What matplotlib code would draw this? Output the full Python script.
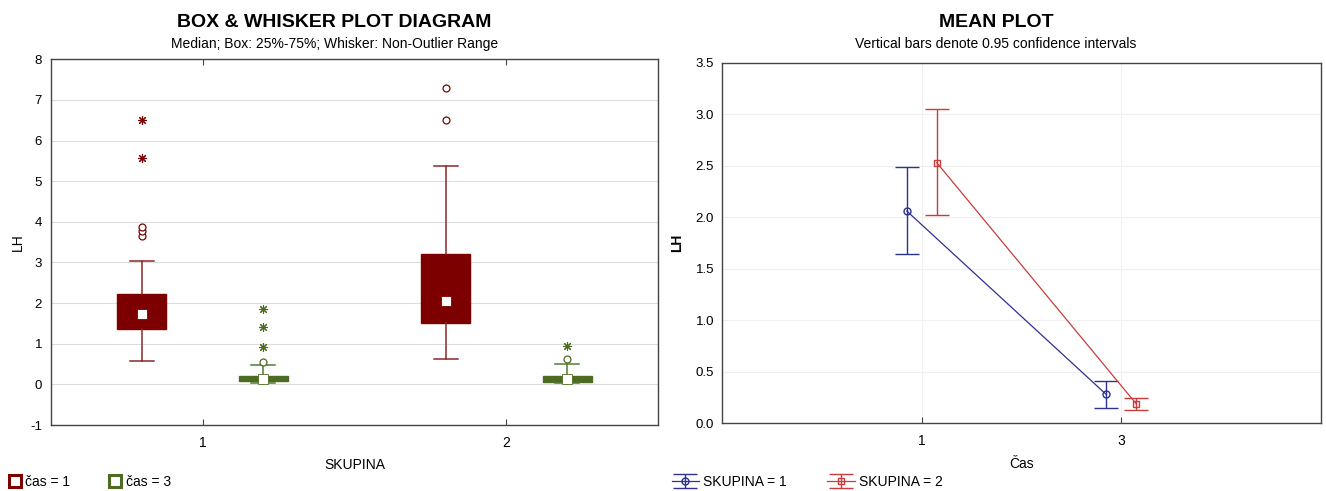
import matplotlib
matplotlib.use("Agg")
import matplotlib.pyplot as plt
from matplotlib.lines import Line2D

plt.rcParams["font.family"] = ["Liberation Sans", "DejaVu Sans"]
plt.rcParams["axes.unicode_minus"] = False

# Box & whisker data (SKUPINA 1, 2 ; čas = 1 / 3)
groups = [1, 2]
cas_labels = ["čas = 1", "čas = 3"]
# per box: [group][čas]
box_q1 = [[1.36, 0.08], [1.50, 0.05]]
box_med = [[1.72, 0.13], [2.04, 0.13]]
box_q3 = [[2.22, 0.21], [3.21, 0.21]]
whisk_lo = [[0.57, 0.03], [0.62, 0.03]]
whisk_hi = [[3.03, 0.47], [5.37, 0.49]]
outliers = [[[3.66, 3.78, 3.88], [0.56]], [[6.51, 7.29], [0.62]]]
extremes = [[[5.58, 6.51], [0.93, 1.41, 1.86]], [[], [0.95]]]

# Mean plot data
cas_ticks = ["1", "3"]
skupina_labels = ["SKUPINA = 1", "SKUPINA = 2"]
means = [[2.06, 0.28], [2.53, 0.19]]
ci_lo = [[1.64, 0.15], [2.02, 0.13]]
ci_hi = [[2.49, 0.41], [3.05, 0.25]]

BOX_FILL = ["#7c0000", "#4e6b22"]
BOX_LINE = ["#8a2a2a", "#4f7d37"]
MEAN_COL = ["#2d3190", "#c93c3c"]
FRAME = "#444444"

fig = plt.figure(figsize=(13.26, 4.91), dpi=100)

# ---------- left: box & whisker ----------
ax1 = fig.add_axes([0.0381, 0.1344, 0.4585, 0.7448])
offsets = [-0.2, 0.2]
for gi, g in enumerate(groups):
    for ci in range(2):
        x = g + offsets[ci]
        stats = [{
            "med": box_med[gi][ci], "q1": box_q1[gi][ci], "q3": box_q3[gi][ci],
            "whislo": whisk_lo[gi][ci], "whishi": whisk_hi[gi][ci], "fliers": [],
        }]
        ax1.bxp(stats, positions=[x], widths=0.16, patch_artist=True,
                showfliers=False, capwidths=0.08,
                boxprops=dict(facecolor=BOX_FILL[ci], edgecolor=BOX_FILL[ci], linewidth=1),
                whiskerprops=dict(color=BOX_LINE[ci], linewidth=1.1),
                capprops=dict(color=BOX_LINE[ci], linewidth=1.1),
                medianprops=dict(linewidth=0), manage_ticks=False, zorder=3)
        ax1.plot([x], [box_med[gi][ci]], marker="s", markersize=6.5,
                 markerfacecolor="white", markeredgecolor=BOX_FILL[ci],
                 markeredgewidth=0.6, linestyle="none", zorder=4)
        out = outliers[gi][ci]
        ax1.plot([x] * len(out), out, marker="o", markersize=5, markerfacecolor="white",
                 markeredgecolor=BOX_FILL[ci], markeredgewidth=0.9, linestyle="none", zorder=4)
        ext = extremes[gi][ci]
        ax1.plot([x] * len(ext), ext, marker=(8, 2, 0), markersize=6.5,
                 color=BOX_FILL[ci], markeredgewidth=0.8, linestyle="none", zorder=4)

ax1.set_xlim(0.5, 2.5)
ax1.set_ylim(-1, 8)
ax1.set_xticks(groups)
ax1.set_xticklabels([str(g) for g in groups], fontsize=10)
ax1.set_yticks(range(-1, 9))
ax1.tick_params(axis="y", labelsize=9.5, length=0, pad=6)
ax1.tick_params(axis="x", direction="in", top=True, length=4, pad=8, color=FRAME)
ax1.yaxis.grid(True, color="#dcdcdc", linewidth=0.8)
ax1.set_axisbelow(True)
for s in ax1.spines.values():
    s.set_color(FRAME)
    s.set_linewidth(1.0)
ax1.set_xlabel("SKUPINA", fontsize=10, labelpad=6)
ax1.set_ylabel("LH", fontsize=10, labelpad=4)

fig.text(0.252, 0.955, "BOX & WHISKER PLOT DIAGRAM", ha="center", va="center",
         fontsize=14, fontweight="bold")
fig.text(0.252, 0.910, "Median; Box: 25%-75%; Whisker: Non-Outlier Range", ha="center",
         va="center", fontsize=10)

h1 = [Line2D([], [], marker="s", markersize=8, markerfacecolor="white",
             markeredgecolor=BOX_FILL[i], markeredgewidth=2.2, linestyle="none")
      for i in range(2)]
fig.legend(h1, cas_labels, loc="lower left", bbox_to_anchor=(-0.002, -0.022), ncol=2,
           frameon=False, fontsize=10, handlelength=0.7, handletextpad=0.4,
           columnspacing=2.9)

# ---------- right: mean plot ----------
ax2 = fig.add_axes([0.5448, 0.1379, 0.4511, 0.7344])
xpos = [0, 1]
moff = [-0.075, 0.075]
mk = ["o", "s"]
conts = []
for si in range(2):
    xs = [p + moff[si] for p in xpos]
    yerr = [[means[si][k] - ci_lo[si][k] for k in range(2)],
            [ci_hi[si][k] - means[si][k] for k in range(2)]]
    c = ax2.errorbar(xs, means[si], yerr=yerr, color=MEAN_COL[si], linewidth=0.9,
                     elinewidth=1.0, capsize=8.5, capthick=1.0, marker=mk[si],
                     markersize=5, markerfacecolor="none", markeredgecolor=MEAN_COL[si],
                     markeredgewidth=1.0, zorder=3)
    conts.append(c)

ax2.set_xlim(-1, 2)
ax2.set_ylim(0, 3.5)
ax2.set_xticks(xpos)
ax2.set_xticklabels(cas_ticks, fontsize=10)
yt = [0, 0.5, 1.0, 1.5, 2.0, 2.5, 3.0, 3.5]
ax2.set_yticks(yt)
ax2.set_yticklabels(["%.1f" % v for v in yt])
ax2.tick_params(axis="y", labelsize=9.5, length=0, pad=6)
ax2.tick_params(axis="x", direction="in", length=4, pad=8, color=FRAME)
ax2.grid(True, color="#f0f0f0", linewidth=0.8)
ax2.set_axisbelow(True)
for s in ax2.spines.values():
    s.set_color(FRAME)
    s.set_linewidth(1.0)
ax2.set_xlabel("Čas", fontsize=10, labelpad=6)
ax2.set_ylabel("LH", fontsize=10, fontweight="bold", labelpad=8)

fig.text(0.751, 0.955, "MEAN PLOT", ha="center", va="center",
         fontsize=14, fontweight="bold")
fig.text(0.751, 0.910, "Vertical bars denote 0.95 confidence intervals", ha="center",
         va="center", fontsize=10)

fig.legend(conts, skupina_labels, loc="lower left", bbox_to_anchor=(0.497, -0.022),
           ncol=2, frameon=False, fontsize=10, handlelength=2.0, handletextpad=0.3,
           columnspacing=2.9)

fig.savefig("out.png", dpi=100, facecolor="white")
